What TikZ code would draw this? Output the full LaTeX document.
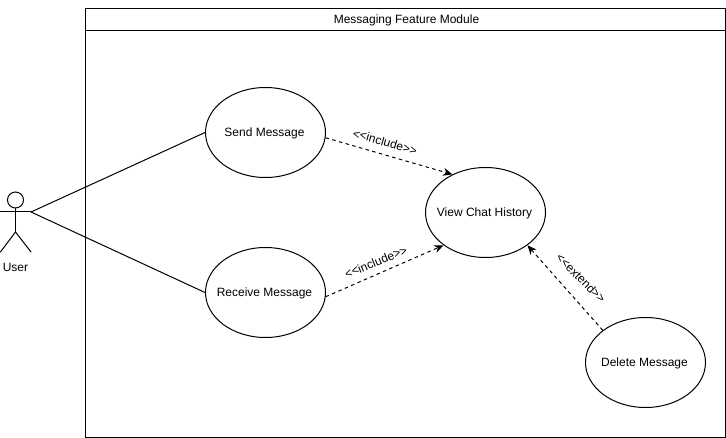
\documentclass[tikz,border=0pt]{standalone}
\usepackage{fontspec}
\setmainfont{Liberation Sans}
\usetikzlibrary{arrows.meta,shapes.geometric}

\newcommand{\ucname}[1]{\makebox[0pt]{\smash{\raisebox{-3.3pt}{#1}}\kern1.5pt}}

\tikzset{
  usecase/.style={draw, ellipse, line width=0.75pt, inner sep=0pt, minimum width=90pt, minimum height=67.5pt, font=\fontsize{9}{11}\selectfont},
  frame/.style={draw, line width=0.75pt, inner sep=0pt, anchor=north west},
  actorline/.style={line width=0.75pt, line cap=round},
  assoc/.style={line width=0.75pt},
  depend/.style={line width=0.75pt, dash pattern=on 2.6pt off 2.6pt, -{Stealth[length=7pt,width=6pt]}},
  deplabel/.style={font=\fontsize{9}{11}\selectfont, inner sep=0pt}
}

\begin{document}
\begin{tikzpicture}[x=0.75pt,y=-0.75pt]

% Area della figura
\useasboundingbox[fill=white] (0,0) rectangle (726,438);

% Riquadro del modulo
\node[frame, minimum width=480pt, minimum height=321.75pt] (module) at (85,8) {};
\node[frame, minimum width=480pt, minimum height=16.5pt, font=\fontsize{9}{11}\selectfont] (moduleTitle) at (85,8) {\hspace*{3pt}\ucname{Messaging Feature Module}};

% Casi d'uso
\node[usecase] (send) at (265.5,132.5) {\ucname{Send Message}};
\node[usecase] (receive) at (265.5,292.5) {\ucname{Receive Message}};
\node[usecase] (history) at (485.5,212.5) {\ucname{View Chat History}};
\node[usecase] (delete) at (645.5,362.5) {\ucname{Delete Message}};

% Attore
\node[circle, draw, line width=0.75pt, minimum size=12pt, inner sep=0pt] (head) at (15.5,200) {};
\coordinate (hip) at (15.5,232);
\coordinate (armL) at (0.5,212);
\coordinate (armR) at (31,212);
\coordinate (footL) at (0.5,252);
\coordinate (footR) at (31,252);
\draw[actorline] (head.south) -- (hip);
\draw[actorline] (armL) -- (armR);
\draw[actorline] (footL) -- (hip) -- (footR);
\node[font=\fontsize{9}{11}\selectfont, inner sep=0pt] (user) at (15.5,267) {User};

% Associazioni
\draw[assoc] (armR) -- (send.west);
\draw[assoc] (armR) -- (receive.west);

% Dipendenze
\draw[depend] (send.-5) -- (history.131);
\draw[depend] (receive.-4) -- (history.218);
\draw[depend] (delete.143) -- (history.-38);

% Etichette
\node[deplabel, rotate=-16] (labelA) at (385,142) {<{}<include>{}>};
\node[deplabel, rotate=22] (labelB) at (376,262) {<{}<include>{}>};
\node[deplabel, rotate=-45] (labelC) at (581,278) {<{}<extend>{}>};

\end{tikzpicture}
\end{document}
